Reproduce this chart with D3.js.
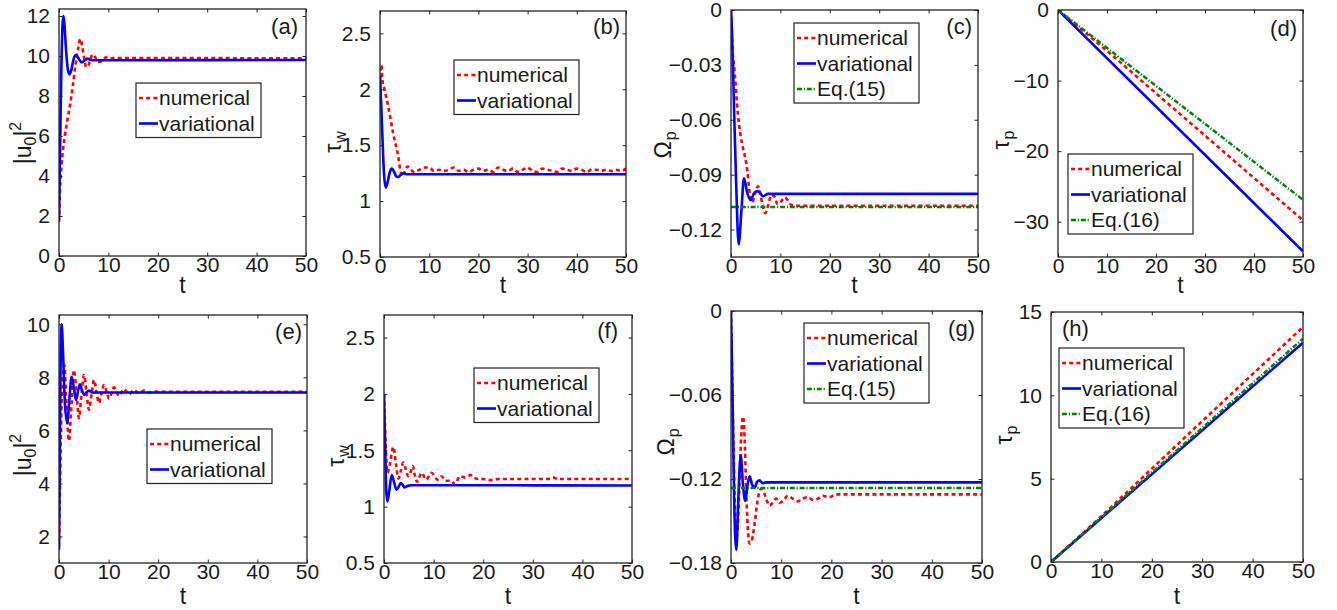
<!DOCTYPE html>
<html>
<head>
<meta charset="utf-8">
<script src="https://cdn.jsdelivr.net/npm/d3@7"></script>
<style>
  body { margin: 0; background: #fff; }
  text { font-family: "Liberation Sans", Arial, Helvetica, sans-serif; fill: #1a1a1a; }
</style>
</head>
<body>
<svg id="fig" width="1337" height="610"></svg>
<script>
// ---------- data: [t, value] pairs for every curve ----------
const tTicks = [0, 10, 20, 30, 40, 50];

// (a) peak intensity |u0|^2, case 1
const numA = [[0,1.7],[0.2,3.3],[0.5,4.5],[0.8,5.3],[1.2,6.05],[1.7,6.8],[2.2,7.5],[2.8,8.5],[3.3,9.5],[3.9,10.4],[4.3,10.85],[4.7,10.5],[5.1,9.9],[5.5,9.45],[5.9,9.5],[6.3,9.8],[6.8,10.08],[7.3,9.95],[7.9,9.7],[8.5,9.72],[9.0,9.85],[9.5,9.93],[10.2,9.87],[11,9.9],[50,9.88]];
const varA = [[0,1.8],[0.2,5],[0.45,9],[0.7,11.5],[0.9,12.0],[1.1,11.6],[1.4,10.4],[1.75,9.4],[2.1,9.08],[2.5,9.3],[2.9,9.8],[3.4,10.05],[3.9,9.9],[4.6,9.68],[5.2,9.78],[5.8,9.87],[6.5,9.8],[7.2,9.79],[50,9.8]];

// (b) pulse width tau_w, case 1
const numB = [[0,2.1],[0.25,2.22],[0.5,2.08],[0.9,2.0],[1.7,1.84],[2.7,1.6],[3.7,1.4],[4.2,1.26],[4.6,1.22],[5.0,1.26],[5.6,1.31],[6.3,1.28],[7,1.26],[8,1.28],[9,1.3],[10,1.3],[11,1.27],[12,1.28],[13,1.27],[14,1.28],[15,1.3],[16,1.27],[17,1.28],[18,1.26],[19,1.28],[20,1.29],[21,1.27],[22,1.28],[23,1.26],[24,1.3],[25,1.28],[26,1.27],[27,1.29],[28,1.26],[29,1.28],[30,1.3],[31,1.27],[32,1.26],[33,1.29],[34,1.28],[35,1.27],[36,1.26],[37,1.29],[38,1.28],[39,1.27],[40,1.29],[41,1.28],[42,1.26],[43,1.28],[44,1.28],[45,1.27],[46,1.28],[47,1.27],[48,1.28],[49,1.27],[50,1.29]];
const varB = [[0,2.13],[0.3,1.8],[0.6,1.45],[0.85,1.22],[1.2,1.12],[1.6,1.18],[2.0,1.26],[2.4,1.29],[2.9,1.26],[3.3,1.22],[3.7,1.215],[4.2,1.235],[4.8,1.25],[5.4,1.24],[6,1.24],[50,1.24]];

// (c) frequency shift Omega_p, case 1
const numC = [[0,0],[0.2,-0.0155],[0.74,-0.034],[1.4,-0.057],[1.9,-0.068],[2.43,-0.0755],[2.9,-0.081],[3.3,-0.088],[3.7,-0.098],[4.1,-0.105],[4.5,-0.104],[5.0,-0.099],[5.47,-0.0964],[5.9,-0.1],[6.4,-0.107],[6.95,-0.111],[7.5,-0.107],[8.2,-0.101],[8.8,-0.102],[9.4,-0.106],[10.0,-0.105],[10.9,-0.1024],[11.5,-0.104],[12.2,-0.1066],[13,-0.107],[50,-0.107]];
const varC = [[0,0],[0.2,-0.012],[0.6,-0.052],[1.07,-0.097],[1.55,-0.128],[2.1,-0.11],[2.63,-0.092],[3.3,-0.1],[3.98,-0.104],[4.7,-0.1],[5.47,-0.099],[6.5,-0.1018],[7.5,-0.1005],[50,-0.1005]];
const eqC = [[0,-0.1077],[50,-0.1077]];

// (d) pulse position tau_p, case 1
const numD = [[0,0],[10,-5.8],[20,-11.8],[30,-17.8],[40,-23.8],[50,-29.8]];
const varD = [[0,0],[50,-34.2]];
const eqD = [[0,0],[50,-26.9]];

// (e) peak intensity |u0|^2, case 2
const numE = [[0,1.6],[0.3,5],[0.6,7.5],[1.07,8.46],[1.5,7],[2.0,5.6],[2.5,6.9],[3.0,8.27],[3.5,7.5],[4.03,6.46],[4.5,7.3],[5.04,8.09],[5.55,7.4],[6.05,6.78],[6.55,7.35],[7.06,7.9],[7.56,7.45],[8.06,7.03],[8.56,7.4],[9.07,7.71],[9.6,7.45],[10.1,7.2],[11.1,7.62],[12.1,7.3],[13.1,7.56],[14.1,7.36],[15.1,7.52],[16.1,7.4],[17.1,7.5],[18.1,7.42],[19.1,7.48],[20,7.45],[50,7.45]];
const varE = [[0,1.5],[0.15,5],[0.35,9],[0.54,10.0],[0.8,9.0],[1.2,7.0],[1.67,6.28],[2.1,7.2],[2.55,8.02],[3.0,7.6],[3.43,7.15],[3.85,7.5],[4.23,7.74],[4.65,7.5],[5.1,7.34],[5.6,7.45],[6.1,7.5],[6.7,7.43],[50,7.43]];

// (f) pulse width tau_w, case 2
const numF = [[0,2.0],[0.3,1.6],[0.7,1.3],[1.2,1.38],[1.88,1.53],[2.4,1.38],[2.9,1.25],[3.4,1.32],[3.9,1.39],[4.4,1.33],[4.9,1.27],[5.3,1.3],[5.78,1.36],[6.2,1.28],[6.7,1.22],[7.1,1.26],[7.6,1.3],[8.5,1.24],[9.6,1.3],[10.8,1.24],[11.6,1.27],[12.5,1.23],[13.5,1.23],[14.3,1.2],[15.3,1.27],[16.3,1.26],[17.5,1.28],[18.5,1.25],[20,1.245],[21.7,1.235],[23,1.245],[33,1.245],[34,1.26],[35,1.245],[50,1.245]];
const varF = [[0,2.0],[0.2,1.6],[0.45,1.15],[0.67,1.045],[1.0,1.12],[1.55,1.28],[2.0,1.22],[2.55,1.15],[3.0,1.18],[3.36,1.21],[3.8,1.19],[4.2,1.17],[4.8,1.185],[5.5,1.19],[50,1.187]];

// (g) frequency shift Omega_p, case 2
const numG = [[0,0],[0.3,-0.06],[0.7,-0.13],[1.05,-0.163],[1.4,-0.15],[1.8,-0.11],[2.1,-0.085],[2.39,-0.0754],[2.7,-0.09],[3.0,-0.125],[3.35,-0.155],[3.72,-0.166],[4.2,-0.163],[4.7,-0.152],[5.3,-0.135],[6.04,-0.127],[6.6,-0.13],[7.2,-0.136],[7.7,-0.139],[8.3,-0.137],[9.0,-0.134],[9.7,-0.137],[10.5,-0.135],[11.3,-0.132],[12.3,-0.134],[13.3,-0.136],[14.3,-0.134],[15.3,-0.133],[16.3,-0.135],[17.3,-0.134],[18.3,-0.132],[19.5,-0.133],[21,-0.131],[50,-0.131]];
const varG = [[0,0],[0.3,-0.06],[0.6,-0.13],[1.06,-0.1706],[1.4,-0.14],[1.93,-0.103],[2.4,-0.125],[2.85,-0.1357],[3.3,-0.124],[3.72,-0.118],[4.2,-0.124],[4.72,-0.126],[5.2,-0.122],[5.7,-0.121],[6.3,-0.123],[7.0,-0.1224],[50,-0.1224]];
const eqG = [[0,-0.1265],[50,-0.1265]];

// (h) pulse position tau_p, case 2
const numH = [[0,0],[10,2.75],[20,5.6],[30,8.45],[40,11.27],[50,14.1]];
const varH = [[0,0],[50,13.16]];
const eqH = [[0,0],[50,13.4]];

// y-axis tick values
const ticksA = [0,2,4,6,8,10,12];
const ticksB = [0.5,1,1.5,2,2.5];
const ticksC = [0,-0.03,-0.06,-0.09,-0.12];
const ticksD = [0,-10,-20,-30];
const ticksE = [2,4,6,8,10];
const ticksF = [0.5,1,1.5,2,2.5];
const ticksG = [0,-0.06,-0.12,-0.18];
const ticksH = [0,5,10,15];

// ---------- styles ----------
const styles = {
  num: { color: "#ff0000", width: 2.6, dash: "4,3.2" },
  var: { color: "#0000ff", width: 2.6, dash: null },
  eq:  { color: "#008000", width: 2.5, dash: "5,1.8,1.2,1.8" }
};

// ---------- panel layout ----------
const panels = [
  { tag: "(a)", box: [59, 306, 9, 256], yDom: [0, 12.35], yTicks: ticksA, ylab: "u", row: 0,
    series: [["num", numA], ["var", varA]], legend: [136, 83, ["numerical", "variational"]],
    tagPos: [298, 34, "end"], ylabPos: [31, 143] },
  { tag: "(b)", box: [380, 626, 11, 257], yDom: [0.5, 2.7], yTicks: ticksB, ylab: ["τ", "w"], row: 0,
    series: [["num", numB], ["var", varB]], legend: [454, 60, ["numerical", "variational"]],
    tagPos: [620, 34, "end"], ylabPos: [341, 142] },
  { tag: "(c)", box: [731, 978, 10, 257], yDom: [-0.135, 0], yTicks: ticksC, ylab: ["Ω", "p"], row: 0,
    series: [["num", numC], ["var", varC], ["eq", eqC]], legend: [794, 23, ["numerical", "variational", "Eq.(15)"]],
    tagPos: [972, 34, "end"], ylabPos: [671, 145] },
  { tag: "(d)", box: [1058, 1303, 10, 257], yDom: [-35, 0], yTicks: ticksD, ylab: ["τ", "p"], row: 0,
    series: [["num", numD], ["var", varD], ["eq", eqD]], legend: [1068, 154, ["numerical", "variational", "Eq.(16)"]],
    tagPos: [1297, 36, "end"], ylabPos: [1009, 140] },
  { tag: "(e)", box: [59, 307, 315, 563], yDom: [1, 10.35], yTicks: ticksE, ylab: "u", row: 1,
    series: [["num", numE], ["var", varE]], legend: [147, 429, ["numerical", "variational"]],
    tagPos: [302, 339, "end"], ylabPos: [31, 455] },
  { tag: "(f)", box: [384, 632, 315, 563], yDom: [0.5, 2.7], yTicks: ticksF, ylab: ["τ", "w"], row: 1,
    series: [["num", numF], ["var", varF]], legend: [474, 368, ["numerical", "variational"]],
    tagPos: [618, 338, "end"], ylabPos: [344, 456] },
  { tag: "(g)", box: [731, 982, 311, 563], yDom: [-0.18, 0], yTicks: ticksG, ylab: ["Ω", "p"], row: 1,
    series: [["num", numG], ["var", varG], ["eq", eqG]], legend: [804, 323, ["numerical", "variational", "Eq.(15)"]],
    tagPos: [975, 336, "end"], ylabPos: [674, 442] },
  { tag: "(h)", box: [1051, 1303, 312, 562], yDom: [0, 15], yTicks: ticksH, ylab: ["τ", "p"], row: 1,
    series: [["num", numH], ["var", varH], ["eq", eqH]], legend: [1059, 348, ["numerical", "variational", "Eq.(16)"]],
    tagPos: [1062, 336, "start"], ylabPos: [1012, 435] }
];

const svg = d3.select("#fig");
const fmt = v => v === 0 ? "0" : d3.format("~g")(v);
const TICK = 3.5;
const FS = 21;

panels.forEach((p, i) => {
  const [x0, x1, y0, y1] = p.box;
  const x = d3.scaleLinear().domain([0, 50]).range([x0, x1]);
  const y = d3.scaleLinear().domain(p.yDom).range([y1, y0]);
  const g = svg.append("g");

  const clipId = "clip" + i;
  svg.append("clipPath").attr("id", clipId)
    .append("rect").attr("x", x0).attr("y", y0).attr("width", x1 - x0).attr("height", y1 - y0);

  // curves
  const line = d3.line().x(d => x(d[0])).y(d => y(d[1])).curve(d3.curveMonotoneX);
  const plot = g.append("g").attr("clip-path", `url(#${clipId})`);
  p.series.forEach(([kind, data]) => {
    const s = styles[kind];
    plot.append("path").datum(data)
      .attr("d", line)
      .attr("fill", "none")
      .attr("stroke", s.color)
      .attr("stroke-width", s.width)
      .attr("stroke-linejoin", "round")
      .attr("stroke-dasharray", s.dash);
  });

  // box axes with inward ticks on all sides
  const ax = g.append("g");
  const axBottom = d3.axisBottom(x).tickValues(tTicks).tickSizeInner(-TICK).tickSizeOuter(0).tickFormat(d3.format("d"));
  const axTop = d3.axisTop(x).tickValues(tTicks).tickSizeInner(-TICK).tickSizeOuter(0).tickFormat("");
  const axLeft = d3.axisLeft(y).tickValues(p.yTicks).tickSizeInner(-TICK).tickSizeOuter(0).tickFormat(fmt).tickPadding(9);
  const axRight = d3.axisRight(y).tickValues(p.yTicks).tickSizeInner(-TICK).tickSizeOuter(0).tickFormat("");

  const gb = ax.append("g").attr("transform", `translate(0,${y1})`).call(axBottom);
  ax.append("g").attr("transform", `translate(0,${y0})`).call(axTop);
  ax.append("g").attr("transform", `translate(${x0},0)`).call(axLeft);
  ax.append("g").attr("transform", `translate(${x1},0)`).call(axRight);
  ax.selectAll(".domain").remove();
  ax.selectAll(".tick line").attr("stroke", "#222").attr("stroke-width", 1);
  ax.selectAll(".tick text").attr("font-size", FS).attr("fill", "#1a1a1a")
    .attr("font-family", '"Liberation Sans", Arial, sans-serif');
  gb.selectAll(".tick text").attr("y", 1).attr("dy", "0.71em");

  g.append("rect").attr("x", x0).attr("y", y0).attr("width", x1 - x0).attr("height", y1 - y0)
    .attr("fill", "none").attr("stroke", "#222").attr("stroke-width", 1.3);

  // x label
  g.append("text").attr("x", (x0 + x1) / 2).attr("y", p.row === 0 ? 293 : 604)
    .attr("text-anchor", "middle").attr("font-size", 23).text("t");

  // y label
  const [lx, ly] = p.ylabPos;
  const yl = g.append("text").attr("transform", `translate(${lx},${ly}) rotate(-90)`)
    .attr("text-anchor", "middle").attr("font-size", 23);
  if (p.ylab === "u") {
    yl.append("tspan").text("|u");
    yl.append("tspan").attr("font-size", 16).attr("dy", 5).text("0");
    yl.append("tspan").attr("dy", -5).text("|");
    yl.append("tspan").attr("font-size", 16).attr("dy", -10).text("2");
  } else {
    yl.append("tspan").text(p.ylab[0]);
    yl.append("tspan").attr("font-size", 16).attr("dx", 1).attr("dy", 5).text(p.ylab[1]);
  }

  // panel tag
  g.append("text").attr("x", p.tagPos[0]).attr("y", p.tagPos[1])
    .attr("text-anchor", p.tagPos[2]).attr("font-size", 22).text(p.tag);

  // legend
  const [lgx, lgy, names] = p.legend;
  const rowH = 25.5;
  const lg = g.append("g");
  lg.append("rect").attr("x", lgx).attr("y", lgy).attr("width", 125).attr("height", 28 + rowH * (names.length - 1) + 1)
    .attr("fill", "#fff").attr("stroke", "#222").attr("stroke-width", 1.2);
  names.forEach((n, k) => {
    const kind = k === 0 ? "num" : k === 1 ? "var" : "eq";
    const s = styles[kind];
    const cy = lgy + 15 + rowH * k;
    lg.append("line").attr("x1", lgx + 3).attr("x2", lgx + 22).attr("y1", cy).attr("y2", cy)
      .attr("stroke", s.color).attr("stroke-width", s.width).attr("stroke-dasharray", s.dash);
    lg.append("text").attr("x", lgx + 23).attr("y", cy + 7).attr("font-size", FS).text(n);
  });
});
</script>
</body>
</html>
